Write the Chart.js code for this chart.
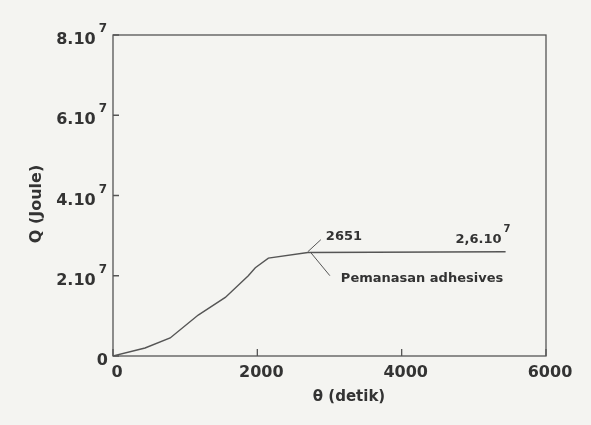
<!DOCTYPE html>
<html>
<head>
<meta charset="utf-8">
<script src="https://cdn.jsdelivr.net/npm/chart.js@4/dist/chart.umd.min.js"></script>
<style>
    html, body { margin: 0; padding: 0; background: #f4f4f1; }
    #wrap { width: 591px; height: 425px; }
</style>
</head>
<body>
<div id="wrap"><canvas id="heatChart" width="591" height="425"></canvas></div>
<script>
// time (detik) and heat (Joule)
const theta = [0, 444, 792, 1181, 1556, 1875, 1972, 2153, 2700, 5440];
const heatQ = [0, 0.2e7, 0.45e7, 1.02e7, 1.46e7, 2.0e7, 2.2e7, 2.44e7, 2.58e7, 2.6e7];

const xTicks = [0, 2000, 4000, 6000];
const yTicks = [0, 2e7, 4e7, 6e7, 8e7];
const yTickText = ['0', '2.10', '4.10', '6.10', '8.10'];

const inkColor = '#333';
const lineColor = '#555';
const fontFamily = '"DejaVu Sans", sans-serif';

const annotationPoint = { x: 2700, y: 2.6e7 };

// frame, inward ticks, labels and notes
const paperPlugin = {
    id: 'paper',
    afterDraw(chart) {
        const ctx = chart.ctx;
        const area = chart.chartArea;
        const xs = chart.scales.x;
        const ys = chart.scales.y;

        ctx.save();
        ctx.strokeStyle = '#555';
        ctx.lineWidth = 1.3;
        ctx.strokeRect(area.left, area.top, area.right - area.left, area.bottom - area.top);

        ctx.beginPath();
        xTicks.forEach((v) => {
            const px = xs.getPixelForValue(v);
            ctx.moveTo(px, area.bottom);
            ctx.lineTo(px, area.bottom - 7);
        });
        yTicks.forEach((v) => {
            const py = ys.getPixelForValue(v);
            ctx.moveTo(area.left, py);
            ctx.lineTo(area.left + 6, py);
        });
        ctx.stroke();

        ctx.fillStyle = inkColor;
        ctx.textBaseline = 'middle';

        // x tick labels
        ctx.font = 'bold 16px ' + fontFamily;
        ctx.textAlign = 'center';
        xTicks.forEach((v) => {
            ctx.fillText(String(v), xs.getPixelForValue(v) + 4, area.bottom + 17);
        });

        // y tick labels with superscript exponent
        yTicks.forEach((v, i) => {
            const py = ys.getPixelForValue(v) + 5;
            const txt = yTickText[i];
            if (i == 0) {
                ctx.font = 'bold 16px ' + fontFamily;
                ctx.textAlign = 'right';
                ctx.fillText(txt, 108, py);
                return;
            }
            ctx.font = 'bold 12px ' + fontFamily;
            const supW = ctx.measureText('7').width;
            ctx.textAlign = 'left';
            ctx.fillText('7', 107 - supW, py - 11);
            ctx.font = 'bold 16px ' + fontFamily;
            ctx.textAlign = 'right';
            ctx.fillText(txt, 104 - supW, py);
        });

        // axis titles
        ctx.font = 'bold 15px ' + fontFamily;
        ctx.textAlign = 'center';
        ctx.fillText('\u03B8 (detik)', 349, 397);

        ctx.save();
        ctx.translate(37, 204);
        ctx.rotate(-Math.PI / 2);
        ctx.font = 'bold 16px ' + fontFamily;
        ctx.fillText('Q (Joule)', 0, 0);
        ctx.restore();

        // annotation
        const ax = xs.getPixelForValue(annotationPoint.x);
        const ay = ys.getPixelForValue(annotationPoint.y);
        ctx.strokeStyle = lineColor;
        ctx.lineWidth = 1;
        ctx.beginPath();
        ctx.moveTo(ax, ay);
        ctx.lineTo(ax + 13, ay - 12);
        ctx.moveTo(ax + 3, ay + 1);
        ctx.lineTo(ax + 22, ay + 24);
        ctx.stroke();

        ctx.font = 'bold 13px ' + fontFamily;
        ctx.textAlign = 'left';
        ctx.fillText('2651', ax + 18, ay - 15);
        ctx.fillText('Pemanasan adhesives', ax + 33, ay + 27);

        const endX = xs.getPixelForValue(theta[theta.length - 1]);
        ctx.textAlign = 'right';
        ctx.fillText('2,6.10', endX - 4, ay - 12);
        ctx.font = 'bold 10px ' + fontFamily;
        ctx.textAlign = 'left';
        ctx.fillText('7', endX - 2, ay - 22);

        ctx.restore();
    }
};

function main() {
    new Chart('heatChart', {
        type: 'line',
        data: {
            datasets: [{
                data: theta.map((t, i) => ({ x: t, y: heatQ[i] })),
                borderColor: lineColor,
                borderWidth: 1.4,
                pointRadius: 0,
                tension: 0,
                fill: false
            }]
        },
        options: {
            responsive: false,
            animation: false,
            layout: { padding: { left: 0, right: 45, top: 35, bottom: 0 } },
            plugins: {
                legend: { display: false },
                tooltip: { enabled: false }
            },
            scales: {
                x: {
                    type: 'linear',
                    min: 0,
                    max: 6000,
                    grid: { display: false },
                    border: { display: false },
                    ticks: { display: false, stepSize: 2000 },
                    afterFit: (scale) => { scale.height = 69; }
                },
                y: {
                    type: 'linear',
                    min: 0,
                    max: 8e7,
                    grid: { display: false },
                    border: { display: false },
                    ticks: { display: false, stepSize: 2e7 },
                    afterFit: (scale) => { scale.width = 113; }
                }
            }
        },
        plugins: [paperPlugin]
    });
}

window.onload = main;
</script>
</body>
</html>
